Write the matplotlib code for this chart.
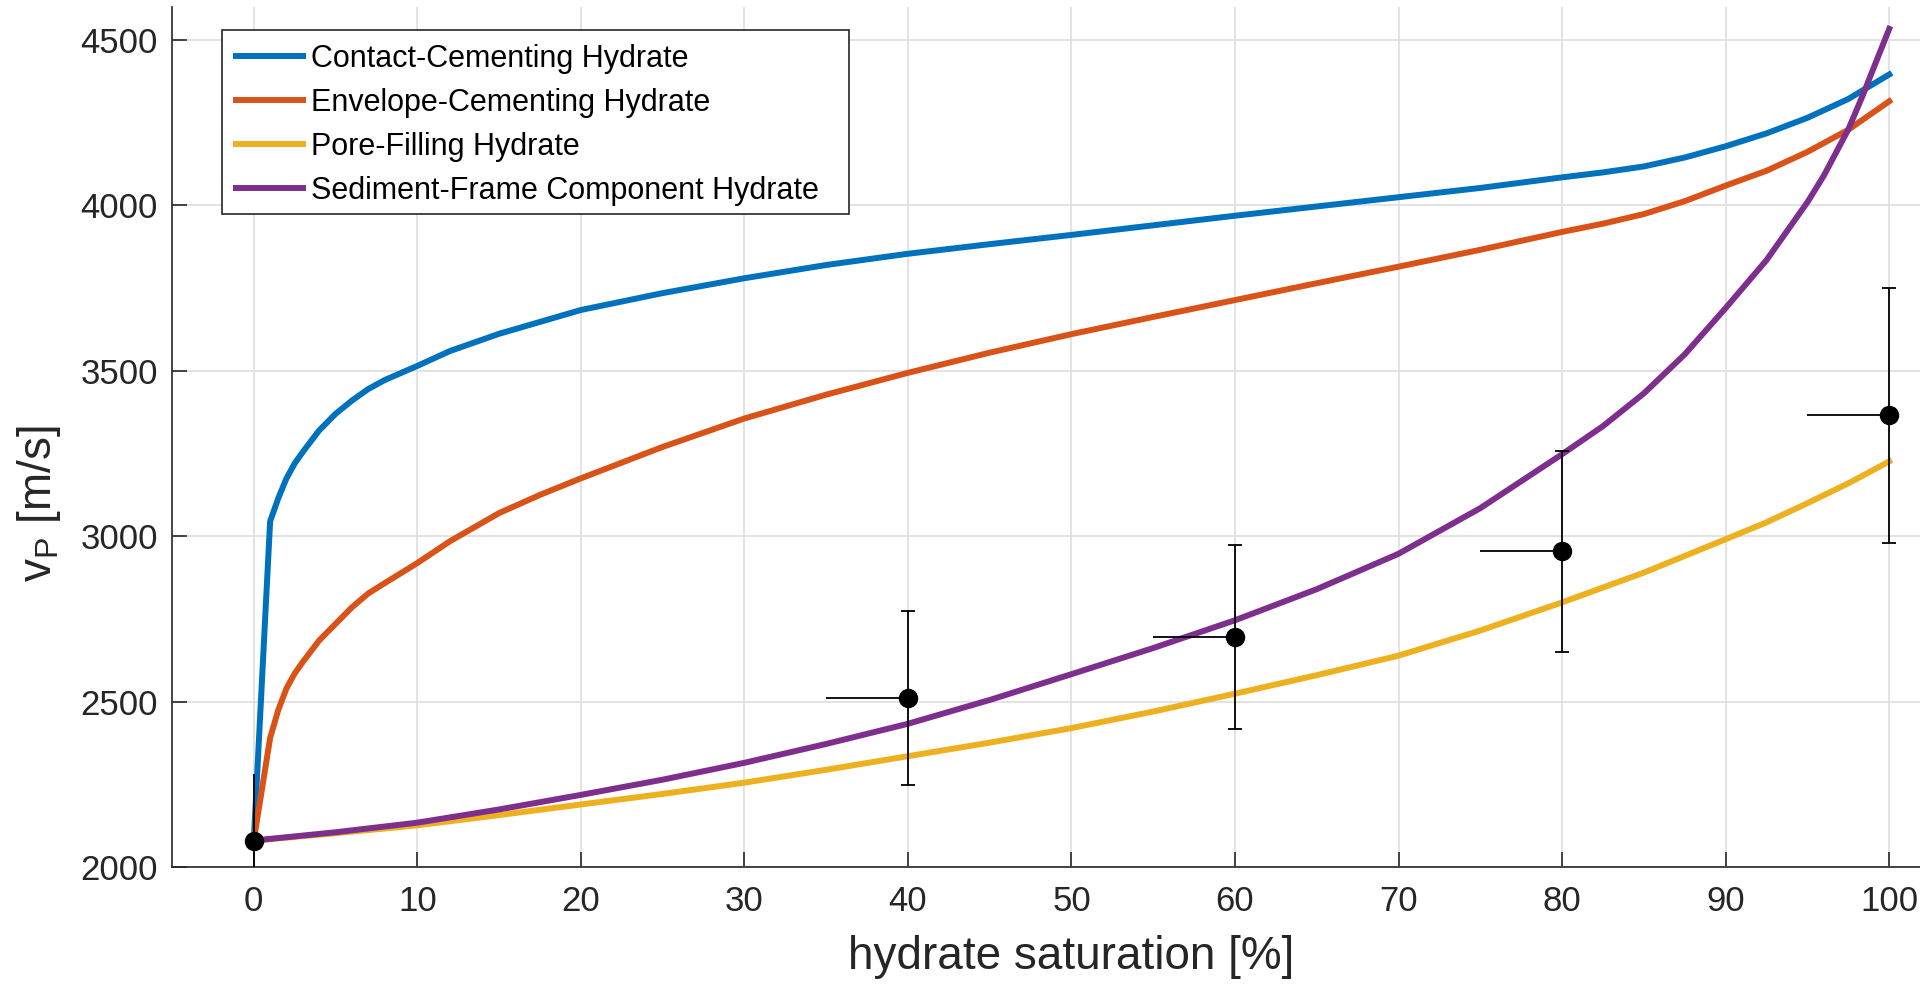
import matplotlib
matplotlib.use("Agg")
import matplotlib.pyplot as plt
from matplotlib.patches import Rectangle

plt.rcParams['font.family'] = ['Liberation Sans', 'DejaVu Sans']
plt.rcParams['mathtext.fontset'] = 'custom'
plt.rcParams['mathtext.rm'] = 'Liberation Sans'
plt.rcParams['mathtext.it'] = 'Liberation Sans:italic'

# model curves (x in %, vP in m/s)
sat_cc = [0, 1, 1.5, 2, 2.5, 3, 4, 5, 6, 7, 8, 10, 12, 15, 20, 25, 30, 35, 40, 45, 50,
          55, 60, 65, 70, 75, 80, 82.5, 85, 87.5, 90, 92.5, 95, 97.5, 100]
vp_cc = [2080, 3045, 3115, 3175, 3220, 3255, 3320, 3370, 3410, 3445, 3472, 3515, 3560,
         3612, 3684, 3735, 3780, 3820, 3854, 3883, 3911, 3940, 3969, 3997, 4025, 4053,
         4085, 4100, 4118, 4145, 4179, 4218, 4265, 4322, 4396]

sat_ec = [0, 1, 1.5, 2, 2.5, 3, 4, 5, 6, 7, 8, 10, 12, 15, 17.5, 20, 25, 30, 35, 40, 45,
          50, 55, 60, 65, 70, 75, 80, 82.5, 85, 87.5, 90, 92.5, 95, 97.5, 100]
vp_ec = [2080, 2390, 2475, 2540, 2585, 2620, 2685, 2735, 2785, 2827, 2858, 2919, 2985,
         3070, 3125, 3175, 3270, 3356, 3428, 3494, 3555, 3611, 3663, 3714, 3765, 3815,
         3866, 3920, 3945, 3974, 4013, 4060, 4105, 4162, 4229, 4315]

sat_pf = [0, 5, 10, 15, 20, 25, 30, 35, 40, 45, 50, 55, 60, 65, 70, 75, 80, 85, 90,
          92.5, 95, 97.5, 100]
vp_pf = [2080, 2102, 2126, 2157, 2189, 2221, 2255, 2294, 2335, 2376, 2420, 2470, 2524,
         2580, 2639, 2715, 2800, 2890, 2991, 3042, 3100, 3160, 3226]

sat_sf = [0, 5, 10, 15, 20, 25, 30, 35, 40, 45, 50, 55, 60, 65, 70, 75, 80, 82.5, 85,
          87.5, 90, 92.5, 95, 96, 97.5, 98.4, 99, 100]
vp_sf = [2080, 2105, 2134, 2174, 2218, 2264, 2315, 2372, 2433, 2505, 2583, 2662, 2746,
         2840, 2947, 3085, 3248, 3333, 3432, 3550, 3690, 3835, 4010, 4090, 4230, 4335,
         4410, 4534]

labels = ['Contact-Cementing Hydrate', 'Envelope-Cementing Hydrate',
          'Pore-Filling Hydrate', 'Sediment-Frame Component Hydrate']
colors = ['#0072BD', '#D95319', '#EDB120', '#7E2F8E']

# measurements with error bars
sat_meas = [0, 40, 60, 80, 100]
vp_meas = [2080, 2512, 2696, 2955, 3366]
vp_err = [200, 263, 278, 304, 385]
sat_err_left = [0, 5, 5, 5, 5]

fig = plt.figure(figsize=(19.2, 9.86), dpi=100)
ax = fig.add_axes([0.08958, 0.12069, 0.93698, 0.87221])

curves = [(sat_cc, vp_cc), (sat_ec, vp_ec), (sat_pf, vp_pf), (sat_sf, vp_sf)]
handles = []
for (xs, ys), lab, col in zip(curves, labels, colors):
    h, = ax.plot(xs, ys, color=col, lw=4.3, label=lab, zorder=3,
                 solid_joinstyle='round')
    handles.append(h)

# first point has no visible cap
ax.errorbar(sat_meas[:1], vp_meas[:1], yerr=vp_err[:1], fmt='o', color='black', ms=13,
            capsize=0, elinewidth=1.3, zorder=5)
ax.errorbar(sat_meas[1:], vp_meas[1:], yerr=vp_err[1:], fmt='o', color='black', ms=13,
            capsize=5, elinewidth=1.3, capthick=1.3, zorder=5)
ax.errorbar(sat_meas, vp_meas, xerr=[sat_err_left, [0] * len(sat_meas)], fmt='none',
            ecolor='black', elinewidth=1.3, capsize=0, zorder=5)

ax.set_xlim(-5, 105)
ax.set_ylim(2000, 4600)
ax.set_xticks(range(0, 101, 10))
ax.set_yticks(range(2000, 4501, 500))

ax.grid(True, color='#dedede', lw=1.2)
ax.set_axisbelow(True)
for side in ['top', 'right']:
    ax.spines[side].set_visible(False)
for side in ['left', 'bottom']:
    ax.spines[side].set_color('#262626')
    ax.spines[side].set_linewidth(1.2)

ax.tick_params(axis='both', direction='in', length=10.8, width=1.2,
               colors='#262626', labelsize=25)
ax.tick_params(axis='y', pad=10)
ax.tick_params(axis='x', pad=13)

ax.set_xlabel('hydrate saturation [%]', fontsize=33, color='#262626')
ax.xaxis.set_label_coords(0.5, -0.079)
ax.set_ylabel(r'v$_\mathrm{P}$ [m/s]', fontsize=33, color='#262626', va='center')
ax.yaxis.set_label_coords(-0.074, 0.423)

# legend frame drawn separately (MATLAB leaves extra room on the right)
frame = Rectangle((222 / 1920, 1 - 214 / 986), (849 - 222) / 1920, (214 - 30) / 986,
                  transform=fig.transFigure, facecolor='white', edgecolor='#262626',
                  lw=1.2, zorder=9, clip_on=False)
ax.add_patch(frame)
leg = ax.legend(handles=handles, loc='upper left',
                bbox_to_anchor=(222 / 1920, 1 - 30 / 986),
                bbox_transform=fig.transFigure, fontsize=22, frameon=False,
                borderaxespad=0, handlelength=2.2, handletextpad=0.25,
                labelspacing=0.46, borderpad=0.45)
leg.set_zorder(10)

fig.savefig('out.png', dpi=100)
